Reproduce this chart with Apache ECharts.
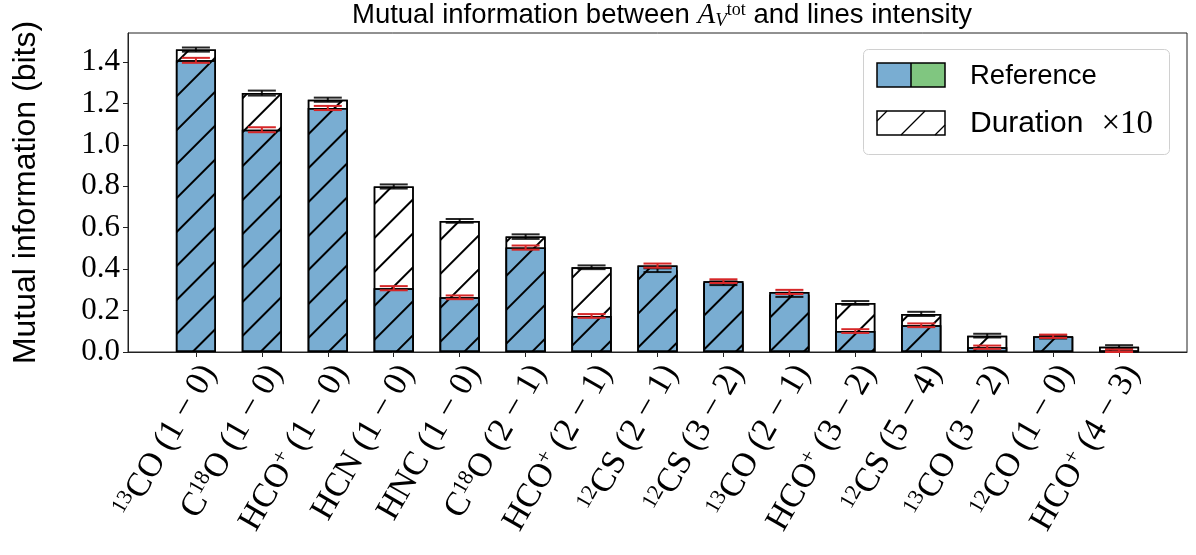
<!DOCTYPE html>
<html><head><meta charset="utf-8">
<script src="https://cdn.jsdelivr.net/npm/echarts@6/dist/echarts.min.js"></script>
<style>html,body{margin:0;padding:0;background:#fff}#c{width:1196px;height:555px}</style>
</head><body><div id="c"></div>
<script>
// ---- data ----
const categories = [
  '{s|13}{t|CO (1 − 0)}',
  '{t|C}{s|18}{t|O (1 − 0)}',
  '{t|HCO}{s|+}{t| (1 − 0)}',
  '{t|HCN (1 − 0)}',
  '{t|HNC (1 − 0)}',
  '{t|C}{s|18}{t|O (2 − 1)}',
  '{t|HCO}{s|+}{t| (2 − 1)}',
  '{s|12}{t|CS (2 − 1)}',
  '{s|12}{t|CS (3 − 2)}',
  '{s|13}{t|CO (2 − 1)}',
  '{t|HCO}{s|+}{t| (3 − 2)}',
  '{s|12}{t|CS (5 − 4)}',
  '{s|13}{t|CO (3 − 2)}',
  '{s|12}{t|CO (1 − 0)}',
  '{t|HCO}{s|+}{t| (4 − 3)}'
];
const referenceValues = [1.408, 1.073, 1.178, 0.308, 0.264, 0.504, 0.174, 0.417, 0.342, 0.290, 0.101, 0.129, 0.023, 0.076, 0.006];
const referenceErrors = [0.012, 0.012, 0.010, 0.010, 0.009, 0.010, 0.009, 0.010, 0.009, 0.010, 0.009, 0.009, 0.008, 0.008, 0.006];
const durationValues  = [1.460, 1.250, 1.218, 0.799, 0.633, 0.557, 0.409, 0.395, 0.332, 0.276, 0.237, 0.184, 0.079, 0.073, 0.025];
const durationErrors  = [0.010, 0.012, 0.010, 0.010, 0.009, 0.011, 0.009, 0.009, 0.009, 0.010, 0.009, 0.010, 0.009, 0.008, 0.008];
const yTicks = [0, 0.2, 0.4, 0.6, 0.8, 1.0, 1.2, 1.4];
const xTicks = categories.map((_, i) => i);

// ---- styles ----
const BLUE = '#79add2', GREEN = '#80c680', RED = '#d62728';
const hatch = { symbol: 'rect', symbolSize: 1, dashArrayX: [1, 0], dashArrayY: [2, 22], rotation: -Math.PI / 4, color: '#000' };

function errSeries(vals, errs, color) {
  return {
    type: 'custom', silent: true, z: 5,
    encode: { x: 0, y: 1 },
    data: vals.map((v, i) => [i, v, errs[i]]),
    renderItem(params, api) {
      const x = api.value(0), v = api.value(1), e = api.value(2);
      const lo = api.coord([x, v - e]), hi = api.coord([x, v + e]);
      const hw = 14, st = { stroke: color, lineWidth: 2 };
      return { type: 'group', children: [
        { type: 'line', shape: { x1: lo[0], y1: lo[1], x2: hi[0], y2: hi[1] }, style: st },
        { type: 'line', shape: { x1: lo[0] - hw, y1: lo[1], x2: lo[0] + hw, y2: lo[1] }, style: st },
        { type: 'line', shape: { x1: hi[0] - hw, y1: hi[1], x2: hi[0] + hw, y2: hi[1] }, style: st }
      ]};
    }
  };
}

const chart = echarts.init(document.getElementById('c'));
const serif = 'Liberation Serif', sans = 'Liberation Sans';
const LX = 863, LY = 49;
chart.setOption({
  animation: false,
  backgroundColor: '#fff',
  title: {
    text: 'Mutual information between {it|A}{sub|V}{sup|tot} and lines intensity',
    left: 657, textAlign: 'center', top: -4,
    textStyle: {
      fontFamily: sans, fontSize: 27.5, fontWeight: 'normal', color: '#000',
      rich: {
        it: { fontFamily: serif, fontStyle: 'italic', fontSize: 29, color: '#000' },
        sub: { fontFamily: serif, fontStyle: 'italic', fontSize: 19, verticalAlign: 'bottom', color: '#000' },
        sup: { fontFamily: serif, fontSize: 18, verticalAlign: 'top', color: '#000' }
      }
    }
  },
  grid: { left: 128, right: 9, top: 33, bottom: 203, show: true, borderColor: '#222', borderWidth: 1 },
  xAxis: {
    type: 'value', min: -1.03, max: 15.03,
    splitLine: { show: false },
    axisLine: { show: true, onZero: false, lineStyle: { color: '#222', width: 1 } },
    axisTick: { show: true, customValues: xTicks, length: 5, lineStyle: { color: '#222' } },
    axisLabel: {
      customValues: xTicks, rotate: 60, margin: 8,
      padding: [30, 0, 0, 0],
      formatter: v => categories[Math.round(v)],
      rich: {
        t: { fontFamily: serif, fontSize: 34, color: '#000', lineHeight: 36 },
        s: { fontFamily: serif, fontSize: 22, color: '#000', verticalAlign: 'top', lineHeight: 22 }
      }
    }
  },
  yAxis: {
    type: 'value', min: 0, max: 1.54,
    name: 'Mutual information (bits)', nameLocation: 'middle', nameGap: 86,
    nameTextStyle: { fontFamily: sans, fontSize: 32, color: '#000' },
    splitLine: { show: false },
    axisLine: { show: true, onZero: false, lineStyle: { color: '#222', width: 1 } },
    axisTick: { show: true, customValues: yTicks, length: 5, lineStyle: { color: '#222' } },
    axisLabel: {
      customValues: yTicks, margin: 8,
      fontFamily: serif, fontSize: 31, color: '#000',
      formatter: v => v.toFixed(1)
    }
  },
  series: [
    { type: 'bar', name: 'Duration ×10', barWidth: 40, barGap: '-100%',
      data: durationValues.map((v, i) => [i, v]),
      itemStyle: { color: '#fff', borderColor: '#000', borderWidth: 1.5, decal: hatch } },
    { type: 'bar', name: 'Reference', barWidth: 40, barGap: '-100%',
      data: referenceValues.map((v, i) => [i, v]),
      itemStyle: { color: BLUE, borderColor: '#000', borderWidth: 1.5, decal: hatch } },
    errSeries(durationValues, durationErrors, 'rgba(0,0,0,0.85)'),
    errSeries(referenceValues, referenceErrors, RED)
  ],
  graphic: [
    { type: 'rect', left: LX, top: LY, shape: { width: 306, height: 105, r: 5 },
      style: { fill: 'rgba(255,255,255,0.85)', stroke: '#d0d0d0', lineWidth: 1 }, z: 10 },
    { type: 'rect', left: 877, top: 63, shape: { width: 34, height: 24 }, style: { fill: BLUE }, z: 11 },
    { type: 'rect', left: 911, top: 63, shape: { width: 34, height: 24 }, style: { fill: GREEN }, z: 11 },
    { type: 'rect', shape: { x: 877, y: 63, width: 68, height: 24 }, style: { fill: 'none', stroke: '#000', lineWidth: 1.5 }, z: 12 },
    { type: 'line', shape: { x1: 911, y1: 63, x2: 911, y2: 87 }, style: { stroke: '#000', lineWidth: 1.5 }, z: 12 },
    { type: 'rect', shape: { x: 877, y: 111, width: 68, height: 24 }, style: { fill: '#fff', stroke: '#000', lineWidth: 1.5 }, z: 11 },
    { type: 'line', shape: { x1: 877, y1: 121, x2: 887, y2: 111 }, style: { stroke: '#000', lineWidth: 1.2 }, z: 12 },
    { type: 'line', shape: { x1: 901, y1: 135, x2: 925, y2: 111 }, style: { stroke: '#000', lineWidth: 1.2 }, z: 12 },
    { type: 'line', shape: { x1: 935, y1: 135, x2: 945, y2: 125 }, style: { stroke: '#000', lineWidth: 1.2 }, z: 12 },
    { type: 'text', x: 970, y: 76, z: 12,
      style: { text: 'Reference', fontFamily: sans, fontSize: 27.5, fill: '#000', verticalAlign: 'middle' } },
    { type: 'text', x: 970, y: 124, z: 12,
      style: { text: '{a|Duration}{b|×10}', verticalAlign: 'middle',
        rich: { a: { fontFamily: sans, fontSize: 30, color: '#000' },
                b: { fontFamily: serif, fontSize: 33, color: '#000', padding: [0, 0, 0, 18] } } } }
  ]
});
</script>
</body></html>
